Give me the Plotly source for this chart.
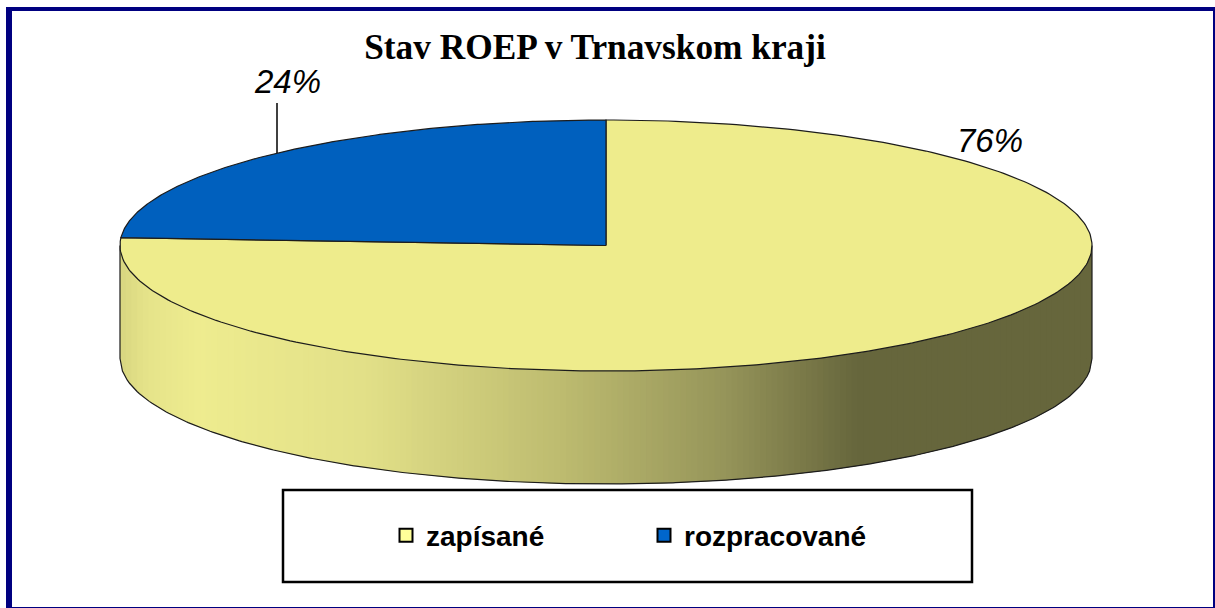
import numpy as np
import plotly.graph_objects as go

TITLE = "Stav ROEP v Trnavskom kraji"
CATEGORIES = ["zapísané", "rozpracované"]
VALUES = [76, 24]
FACE_COLORS = ["#EEEC8C", "#0060BE"]
LEGEND_COLORS = ["#FFFF99", "#0066CC"]

W, H = 1215, 608
CX, CY, RX, RY, DEPTH = 606, 245.5, 486, 125.5, 113
STOP_POS = [0.0, 0.03, 0.08, 0.25, 0.45, 0.62, 0.76, 1.0]
STOP_RGB = [(216, 214, 128), (230, 228, 138), (238, 236, 143), (226, 224, 136),
            (190, 188, 112), (150, 149, 90), (102, 102, 60), (102, 102, 60)]
EDGE = "#1c1c1c"

fig = go.Figure()

# side wall: gradient strips, each overlapping the next so no seams show
n = 170
edges = np.linspace(-1, 1, n + 1)
step = edges[1] - edges[0]
for a, b in zip(edges[:-1], edges[1:]):
    u = np.linspace(a, min(b + step, 1), 6)
    xs = CX + RX * u
    ys = CY + RY * np.sqrt(np.clip(1 - u ** 2, 0, 1))
    m = ((a + b) / 2 + 1) / 2
    c = [int(round(np.interp(m, STOP_POS, [s[i] for s in STOP_RGB]))) for i in range(3)]
    col = f"rgb({c[0]},{c[1]},{c[2]})"
    fig.add_trace(go.Scatter(
        x=np.r_[xs, xs[::-1], xs[0]], y=np.r_[ys - 3, ys[::-1] + DEPTH, ys[0] - 3],
        mode="lines", fill="toself", fillcolor=col, line=dict(width=0),
        showlegend=False, hoverinfo="skip"))

# side outline
u = np.linspace(-1, 1, 400)
fig.add_trace(go.Scatter(
    x=np.r_[CX - RX, CX + RX * u, CX + RX],
    y=np.r_[CY, CY + DEPTH + RY * np.sqrt(1 - u ** 2), CY],
    mode="lines", line=dict(color=EDGE, width=1.2), showlegend=False, hoverinfo="skip"))

# top face wedges, derived from the values
total = sum(VALUES)
start = 0.0
for name, v, col in zip(CATEGORIES, VALUES, FACE_COLORS):
    end = start + v / total * 2 * np.pi
    t = np.linspace(start, end, 300)
    fig.add_trace(go.Scatter(
        x=np.r_[CX, CX + RX * np.sin(t), CX], y=np.r_[CY, CY - RY * np.cos(t), CY],
        mode="lines", fill="toself", fillcolor=col, line=dict(color=EDGE, width=1.2),
        showlegend=False, name=name, hoverinfo="name"))
    start = end

# legend entries
for name, col in zip(CATEGORIES, LEGEND_COLORS):
    fig.add_trace(go.Scatter(
        x=[None], y=[None], mode="markers", name=name,
        marker=dict(symbol="square", size=13, color=col, line=dict(color="black", width=2))))

# leader line for 24 %
fig.add_shape(type="line", x0=277, x1=277, y0=103, y1=153, line=dict(color="black", width=1.5))

label_pos = [(990, 140), (287, 81)]
for v, (lx, ly) in zip(VALUES, label_pos):
    fig.add_annotation(x=lx, y=ly, text=f"<i>{v / total:.0%}</i>", showarrow=False,
                       font=dict(family="Liberation Sans", size=33, color="black"))

# frame
FRAME = "#000080"
for x0, y0, x1, y1 in [(6, 7, 1215, 11), (6, 7, 12, 608), (1213, 7, 1215, 608), (6, 607, 1215, 608)]:
    fig.add_shape(type="rect", x0=x0, x1=x1, y0=y0, y1=y1, fillcolor=FRAME, line=dict(width=0), layer="above")
# legend box
fig.add_shape(type="rect", x0=283, x1=972, y0=490, y1=582, line=dict(color="black", width=2.5),
              fillcolor="white", layer="below")

fig.update_layout(
    width=W, height=H, margin=dict(l=0, r=0, t=0, b=0),
    paper_bgcolor="white", plot_bgcolor="white",
    xaxis=dict(range=[0, W], visible=False, fixedrange=True),
    yaxis=dict(range=[H, 0], visible=False, fixedrange=True),
    title=dict(text=f"<b>{TITLE}</b>", x=595 / W, xanchor="center", y=1 - 47 / H, yanchor="middle",
               font=dict(family="Liberation Serif", size=35.3, color="black")),
    legend=dict(orientation="h", x=386 / W, xanchor="left", y=1 - 535.5 / H, yanchor="middle",
                bgcolor="rgba(0,0,0,0)", entrywidth=213, entrywidthmode="pixels",
                font=dict(family="Liberation Sans", size=28, color="black", weight=700)),
    showlegend=True,
)
fig.write_html("out.html", config={"displayModeBar": False},
               post_script="document.body.style.margin='0';document.documentElement.style.overflow='hidden';")
